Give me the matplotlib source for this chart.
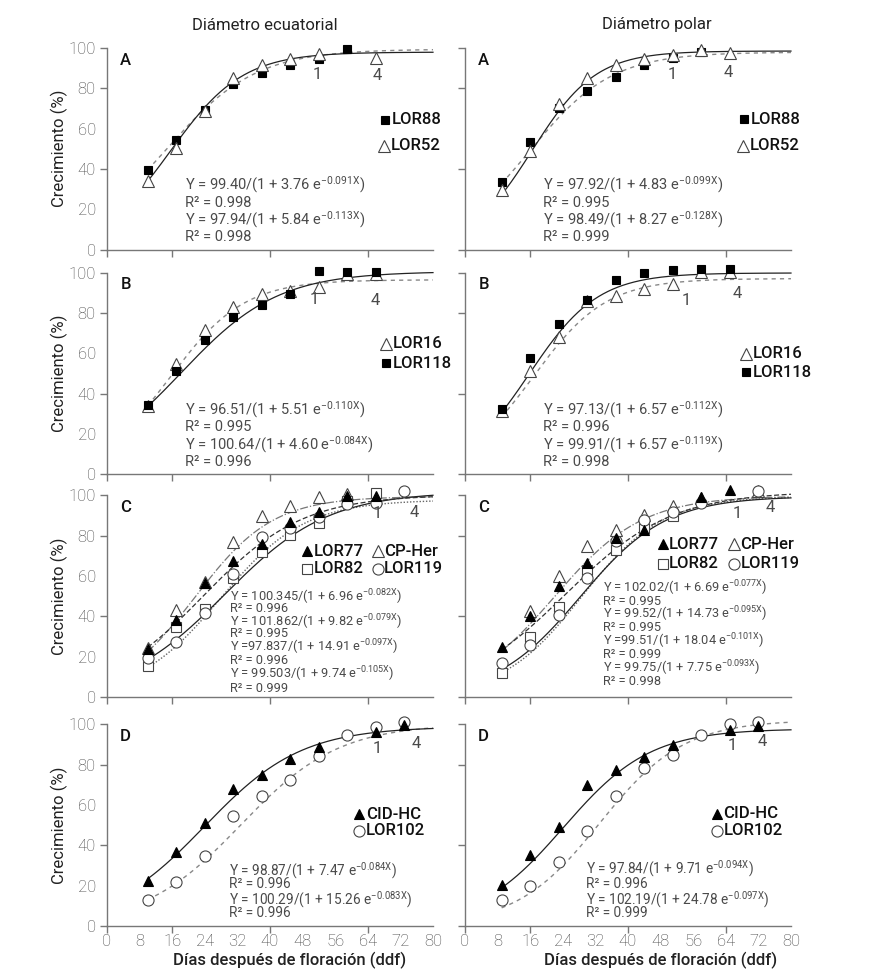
import matplotlib
matplotlib.use("Agg")
import matplotlib.pyplot as plt
import numpy as np

plt.rcParams['font.family'] = ['Roboto', 'DejaVu Sans']
plt.rcParams['mathtext.fontset'] = 'custom'
plt.rcParams['mathtext.rm'] = 'Roboto'
plt.rcParams['mathtext.default'] = 'regular'

nan = np.nan

# sampling days (ddf)
days_eq = [10, 17, 24, 31, 38, 45, 52, 59, 66, 73]
days_po = [9, 16, 23, 30, 37, 44, 51, 58, 65, 72]

# panel A
a_eq_lor88 = [39.5, 54.3, 69.2, 82.1, 87.7, 91.7, 94.7, 99.3, nan, nan]
a_eq_lor52 = [34.1, 50.5, 68.9, 85.3, 91.6, 94.7, 97.2, nan, 94.9, nan]
a_po_lor88 = [33.7, 53.2, 70.1, 78.8, 85.8, 91.6, 94.9, 98.2, nan, nan]
a_po_lor52 = [29.4, 48.7, 72.2, 85.3, 91.7, 94.5, 96.7, 99.0, 97.7, nan]
# panel B
b_eq_lor16 = [34.1, 54.9, 71.7, 83.2, 89.5, 91.0, 93.0, 99.6, 99.6, nan]
b_eq_lor118 = [34.3, 51.2, 66.4, 77.9, 84.1, 89.5, 101.0, 100.2, 100.2, nan]
b_po_lor16 = [31.3, 51.1, 67.9, 85.9, 88.7, 91.8, 94.3, 100.2, 100.2, nan]
b_po_lor118 = [32.6, 57.7, 74.7, 86.5, 96.4, 99.9, 101.2, 101.9, 101.9, nan]
# panel C
c_eq_lor77 = [23.6, 38.1, 56.5, 67.7, 75.7, 87.0, 91.9, 99.7, 99.7, nan]
c_eq_cpher = [24.3, 43.1, 56.9, 76.9, 89.6, 94.7, 99.2, 100.5, nan, nan]
c_eq_lor82 = [15.3, 34.8, 43.9, 58.8, 71.9, 80.2, 86.3, 97.2, 101.1, nan]
c_eq_lor119 = [19.2, 27.1, 41.7, 61.2, 79.4, 83.8, 89.3, 95.9, 96.4, 102.0]
c_po_lor77 = [24.9, 40.1, 55.0, 66.5, 79.0, 82.7, nan, 99.2, 102.5, nan]
c_po_cpher = [nan, 42.7, 59.9, 74.8, 83.0, 90.3, 94.9, 98.9, nan, 102.1]
c_po_lor82 = [11.7, 29.9, 44.7, 62.9, 73.1, 84.0, 89.6, nan, nan, nan]
c_po_lor119 = [16.7, 25.7, 40.6, 58.8, 77.2, 87.6, 91.7, 96.2, nan, 102.1]
# panel D
d_eq_cidhc = [22.5, 36.7, 51.3, 68.0, 74.7, 83.0, 89.0, nan, 96.3, 99.7]
d_eq_lor102 = [12.7, 21.7, 34.7, 54.7, 64.3, 72.5, 84.3, 95.0, 98.8, 101.0]
d_po_cidhc = [20.2, 35.2, 49.3, 69.7, 77.2, 84.0, 89.7, nan, 97.2, 99.0]
d_po_lor102 = [13.0, 20.0, 31.7, 47.2, 64.7, 78.3, 84.7, 95.0, 100.0, 101.0]

# logistic fits Y = a/(1 + b e^(-kX)): (a, b, k, a_text)
fit_a_eq_lor88 = (99.40, 3.76, 0.091, "99.40")
fit_a_eq_lor52 = (97.94, 5.84, 0.113, "97.94")
fit_a_po_lor88 = (97.92, 4.83, 0.099, "97.92")
fit_a_po_lor52 = (98.49, 8.27, 0.128, "98.49")
fit_b_eq_lor16 = (96.51, 5.51, 0.110, "96.51")
fit_b_eq_lor118 = (100.64, 4.60, 0.084, "100.64")
fit_b_po_lor16 = (97.13, 6.57, 0.112, "97.13")
fit_b_po_lor118 = (99.91, 6.57, 0.119, "99.91")
fit_c_eq_lor77 = (100.345, 6.96, 0.082, "100.345")
fit_c_eq_lor119 = (101.862, 9.82, 0.079, "101.862")
fit_c_eq_lor82 = (97.837, 14.91, 0.097, "97.837")
fit_c_eq_cpher = (99.503, 9.74, 0.105, "99.503")
fit_c_po_lor77 = (102.02, 6.69, 0.077, "102.02")
fit_c_po_lor119 = (99.52, 14.73, 0.095, "99.52")
fit_c_po_lor82 = (99.51, 18.04, 0.101, "99.51")
fit_c_po_cpher = (99.75, 7.75, 0.093, "99.75")
fit_d_eq_cidhc = (98.87, 7.47, 0.084, "98.87")
fit_d_eq_lor102 = (100.29, 15.26, 0.083, "100.29")
fit_d_po_cidhc = (97.84, 9.71, 0.094, "97.84")
fit_d_po_lor102 = (102.19, 24.78, 0.097, "102.19")

r2_a_eq = ["0.998", "0.998"]
r2_a_po = ["0.995", "0.999"]
r2_b_eq = ["0.995", "0.996"]
r2_b_po = ["0.996", "0.998"]
r2_c_eq = ["0.996", "0.995", "0.996", "0.999"]
r2_c_po = ["0.995", "0.995", "0.999", "0.998"]
r2_d_eq = ["0.996", "0.996"]
r2_d_po = ["0.996", "0.999"]

sq_f = dict(marker='s', mfc='black', mec='black', ms=6, mew=0.8)
sq_o = dict(marker='s', mfc='white', mec='#444444', ms=6.5, mew=0.8)
tri_f = dict(marker='^', mfc='black', mec='black', ms=7.5, mew=0.8)
tri_o = dict(marker='^', mfc='white', mec='#444444', ms=8.5, mew=0.8)
circ_o = dict(marker='o', mfc='white', mec='#444444', ms=8, mew=0.8)

solid = dict(color='#222222', ls='-', lw=0.9)
dash = dict(color='#888888', ls=(0, (3, 3)), lw=1.0)
dashdot = dict(color='#777777', ls='-.', lw=0.9)
dotted = dict(color='#666666', ls=(0, (1, 1.3)), lw=1.0)
dash2 = dict(color='#333333', ls=(0, (4, 2)), lw=0.9)

TXT = '#4a4a4a'


def logistic(x, p):
    a, b, k = p[0], p[1], p[2]
    return a / (1 + b * np.exp(-k * x))


def eq_text(p):
    return "Y = %s/(1 + %.2f e$^{-%.3fX}$)" % (p[3], p[1], p[2])


fig = plt.figure(figsize=(8.74, 9.69), dpi=100)
lefts = [0.1224, 0.532]
bottoms = [0.7425, 0.5105, 0.2807, 0.0444]
W, H = 0.373, 0.208


def setup(ax, col, row):
    ax.set_xlim(0, 80)
    ax.set_ylim(0, 100)
    for s in ['top', 'right']:
        ax.spines[s].set_visible(False)
    for s in ['left', 'bottom']:
        ax.spines[s].set_color('#777777')
        ax.spines[s].set_linewidth(1.0)
    ax.xaxis.remove_overlapping_locs = False
    ax.yaxis.remove_overlapping_locs = False
    # labels on major ticks (no marks), marks on minor ticks
    ax.set_xticks(range(0, 81, 8))
    ax.set_yticks(range(0, 101, 20))
    ax.set_xticks([0, 16, 40, 64], minor=True)
    ax.set_yticks([0, 40, 80, 100], minor=True)
    ax.tick_params(which='minor', length=5, color='#777777', width=1.0)
    ax.tick_params(which='major', length=0, labelsize=12, labelcolor='#444444')
    ax.tick_params(axis='y', which='major', pad=8)
    ax.tick_params(axis='x', which='major', pad=6)
    if row == 3:
        ax.set_xticklabels([str(v) for v in range(0, 81, 8)],
                           fontweight='light')
        ax.set_xlabel('Días después de floración (ddf)', fontsize=12,
                      fontweight='medium', color='#222222')
        ax.xaxis.set_label_coords(0.56 if col == 0 else 0.6, -0.13)
    else:
        ax.set_xticklabels([])
    if col == 0:
        ax.set_yticklabels([str(v) for v in range(0, 101, 20)],
                           fontweight='light')
        ax.set_ylabel('Crecimiento (%)', fontsize=12, color='#222222')
        ax.yaxis.set_label_coords(-0.12, 0.5)
    else:
        ax.set_yticklabels([])
    ax.patch.set_alpha(0)


def draw(ax, days, vals, mk, fit, line):
    xs = np.linspace(days[0], 80, 300)
    ax.plot(xs, logistic(xs, fit), clip_on=False, zorder=2, **line)
    ax.plot(days, vals, ls='none', clip_on=False, zorder=3, **mk)


def legend_item(ax, x, y, mk, label):
    ax.plot([x], [y], ls='none', clip_on=False, zorder=4, **mk)
    ax.text(x + 1.6, y, label, fontsize=12, fontweight='medium', va='center',
            ha='left', color='#111111', clip_on=False)


def equations(ax, x, ys, lines, size):
    for y, t in zip(ys, lines):
        ax.text(x, y, t, fontsize=size, color=TXT, va='center',
                ha='left')


def marks(ax, p1, p4):
    ax.text(p1[0], p1[1], '1', fontsize=12, color=TXT, ha='center',
            va='center')
    ax.text(p4[0], p4[1], '4', fontsize=12, color=TXT, ha='center',
            va='center')


letters = ['A', 'B', 'C', 'D']
axes = {}
for row in range(4):
    for col in range(2):
        ax = fig.add_axes([lefts[col], bottoms[row], W, H])
        setup(ax, col, row)
        ax.text(4.6, 94, letters[row], fontsize=12, fontweight='medium',
                color='#111111', ha='center', va='center')
        axes[(row, col)] = ax

# A
ax = axes[(0, 0)]
draw(ax, days_eq, a_eq_lor88, sq_f, fit_a_eq_lor88, dash)
draw(ax, days_eq, a_eq_lor52, tri_o, fit_a_eq_lor52, solid)
legend_item(ax, 68.2, 64.3, sq_f, 'LOR88')
legend_item(ax, 68.0, 51.4, tri_o, 'LOR52')
equations(ax, 19.2, [32, 23.3, 14.6, 6.0],
          [eq_text(fit_a_eq_lor88), 'R² = ' + r2_a_eq[0],
           eq_text(fit_a_eq_lor52), 'R² = ' + r2_a_eq[1]], 10.5)
marks(ax, (51.5, 86.6), (66.3, 86.1))

ax = axes[(0, 1)]
draw(ax, days_po, a_po_lor88, sq_f, fit_a_po_lor88, dash)
draw(ax, days_po, a_po_lor52, tri_o, fit_a_po_lor52, solid)
legend_item(ax, 68.5, 64.6, sq_f, 'LOR88')
legend_item(ax, 68.3, 51.4, tri_o, 'LOR52')
equations(ax, 19.1, [32, 23.3, 14.6, 6.0],
          [eq_text(fit_a_po_lor88), 'R² = ' + r2_a_po[0],
           eq_text(fit_a_po_lor52), 'R² = ' + r2_a_po[1]], 10.5)
marks(ax, (50.8, 86.6), (64.6, 87.7))

# B
ax = axes[(1, 0)]
draw(ax, days_eq, b_eq_lor16, tri_o, fit_b_eq_lor16, dash)
draw(ax, days_eq, b_eq_lor118, sq_f, fit_b_eq_lor118, solid)
legend_item(ax, 68.5, 64.8, tri_o, 'LOR16')
legend_item(ax, 68.5, 55.2, sq_f, 'LOR118')
equations(ax, 19.2, [32.3, 23.6, 14.8, 6.2],
          [eq_text(fit_b_eq_lor16), 'R² = ' + r2_b_eq[0],
           eq_text(fit_b_eq_lor118), 'R² = ' + r2_b_eq[1]], 10.5)
marks(ax, (50.8, 86.5), (65.8, 86.2))

ax = axes[(1, 1)]
draw(ax, days_po, b_po_lor16, tri_o, fit_b_po_lor16, dash)
draw(ax, days_po, b_po_lor118, sq_f, fit_b_po_lor118, solid)
legend_item(ax, 68.9, 59.8, tri_o, 'LOR16')
legend_item(ax, 68.9, 50.7, sq_f, 'LOR118')
equations(ax, 19.1, [32.3, 23.6, 14.8, 6.2],
          [eq_text(fit_b_po_lor16), 'R² = ' + r2_b_po[0],
           eq_text(fit_b_po_lor118), 'R² = ' + r2_b_po[1]], 10.5)
marks(ax, (54.2, 86.2), (66.8, 89.5))

# C
ax = axes[(2, 0)]
draw(ax, days_eq, c_eq_cpher, tri_o, fit_c_eq_cpher, dashdot)
draw(ax, days_eq, c_eq_lor82, sq_o, fit_c_eq_lor82, dotted)
draw(ax, days_eq, c_eq_lor119, circ_o, fit_c_eq_lor119, solid)
draw(ax, days_eq, c_eq_lor77, tri_f, fit_c_eq_lor77, dash2)
legend_item(ax, 49.2, 72.4, tri_f, 'LOR77')
legend_item(ax, 66.4, 72.4, tri_o, 'CP-Her')
legend_item(ax, 49.2, 63.7, sq_o, 'LOR82')
legend_item(ax, 66.4, 63.7, circ_o, 'LOR119')
equations(ax, 30.3, [49.7, 43.9, 37.3, 31.5, 24.9, 18.3, 11.2, 4.3],
          [eq_text(fit_c_eq_lor77), 'R² = ' + r2_c_eq[0],
           eq_text(fit_c_eq_lor119), 'R² = ' + r2_c_eq[1],
           eq_text(fit_c_eq_lor82).replace('= ', '='), 'R² = ' + r2_c_eq[2],
           eq_text(fit_c_eq_cpher), 'R² = ' + r2_c_eq[3]], 9.2)
marks(ax, (66.3, 90.9), (75.4, 91.7))

ax = axes[(2, 1)]
draw(ax, days_po, c_po_cpher, tri_o, fit_c_po_cpher, dashdot)
draw(ax, days_po, c_po_lor82, sq_o, fit_c_po_lor82, dotted)
draw(ax, days_po, c_po_lor119, circ_o, fit_c_po_lor119, solid)
draw(ax, days_po, c_po_lor77, tri_f, fit_c_po_lor77, dash2)
legend_item(ax, 48.5, 75.7, tri_f, 'LOR77')
legend_item(ax, 66.0, 75.7, tri_o, 'CP-Her')
legend_item(ax, 48.5, 66.2, sq_o, 'LOR82')
legend_item(ax, 66.0, 66.2, circ_o, 'LOR119')
equations(ax, 33.8, [53.8, 47.5, 40.9, 34.3, 27.7, 21.3, 14.5, 7.9],
          [eq_text(fit_c_po_lor77), 'R² = ' + r2_c_po[0],
           eq_text(fit_c_po_lor119), 'R² = ' + r2_c_po[1],
           eq_text(fit_c_po_lor82).replace('= ', '='), 'R² = ' + r2_c_po[2],
           eq_text(fit_c_po_cpher), 'R² = ' + r2_c_po[3]], 9.2)
marks(ax, (66.8, 91.2), (75.0, 94.2))

# D
ax = axes[(3, 0)]
draw(ax, days_eq, d_eq_lor102, circ_o, fit_d_eq_lor102, dash)
draw(ax, days_eq, d_eq_cidhc, tri_f, fit_d_eq_cidhc, solid)
legend_item(ax, 61.9, 55.5, tri_f, 'CID-HC')
legend_item(ax, 61.9, 47.2, circ_o, 'LOR102')
equations(ax, 29.9, [27.4, 20.6, 13.2, 6.4],
          [eq_text(fit_d_eq_cidhc), 'R² = ' + r2_d_eq[0],
           eq_text(fit_d_eq_lor102), 'R² = ' + r2_d_eq[1]], 9.8)
marks(ax, (66.4, 88.0), (75.9, 90.5))

ax = axes[(3, 1)]
draw(ax, days_po, d_po_lor102, circ_o, fit_d_po_lor102, dash)
draw(ax, days_po, d_po_cidhc, tri_f, fit_d_po_cidhc, solid)
legend_item(ax, 61.8, 55.8, tri_f, 'CID-HC')
legend_item(ax, 61.8, 47.2, circ_o, 'LOR102')
equations(ax, 29.6, [28.2, 20.8, 13.2, 6.3],
          [eq_text(fit_d_po_cidhc), 'R² = ' + r2_d_po[0],
           eq_text(fit_d_po_lor102), 'R² = ' + r2_d_po[1]], 9.8)
marks(ax, (65.6, 89.7), (72.9, 91.7))

fig.text(265 / 874, 1 - 25 / 969, 'Diámetro ecuatorial', fontsize=12,
         color='#222222', ha='center', va='center')
fig.text(657 / 874, 1 - 25 / 969, 'Diámetro polar', fontsize=12,
         color='#222222', ha='center', va='center')

fig.savefig('out.png', dpi=100)
